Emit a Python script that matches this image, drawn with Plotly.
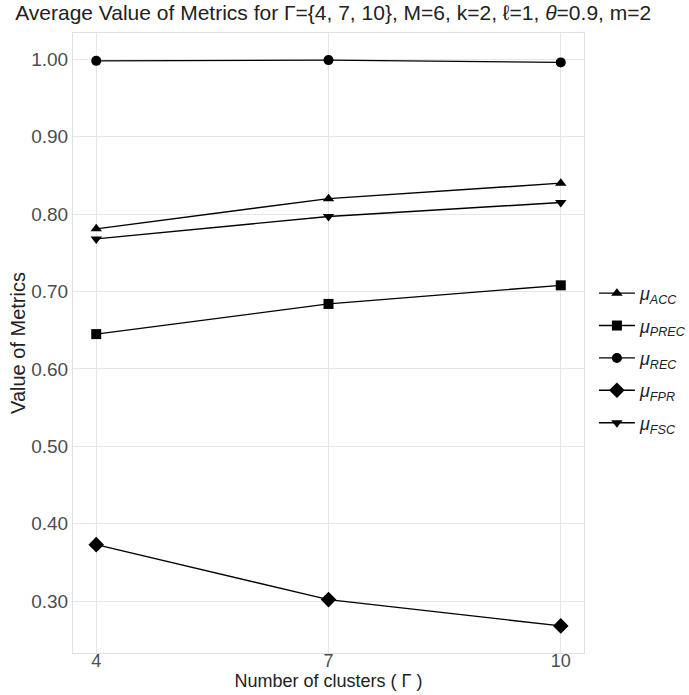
import plotly.graph_objects as go

clusters = [4, 7, 10]
acc = [0.781, 0.820, 0.840]
prec = [0.645, 0.684, 0.708]
rec = [0.998, 0.999, 0.996]
fpr = [0.373, 0.302, 0.268]
fsc = [0.768, 0.797, 0.815]

series = [
    ("<i>μ<sub>ACC</sub></i>", acc, "triangle-up"),
    ("<i>μ<sub>PREC</sub></i>", prec, "square"),
    ("<i>μ<sub>REC</sub></i>", rec, "circle"),
    ("<i>μ<sub>FPR</sub></i>", fpr, "diamond"),
    ("<i>μ<sub>FSC</sub></i>", fsc, "triangle-down"),
]

y_ticks = [0.3, 0.4, 0.5, 0.6, 0.7, 0.8, 0.9, 1.0]
y_labels = ["0.30", "0.40", "0.50", "0.60", "0.70", "0.80", "0.90", "1.00"]

fig = go.Figure()
for i, (name, vals, sym) in enumerate(series):
    fig.add_trace(go.Scatter(
        x=clusters, y=vals, name=name, mode="lines+markers",
        legendgroup=f"g{i}",
        line=dict(color="black", width=1.4),
        marker=dict(symbol=sym, size=10 if sym != "diamond" else 12, color="black"),
    ))

font = "Liberation Sans, Arial, sans-serif"
fig.update_layout(
    width=689, height=695,
    margin=dict(l=73, r=105, t=33, b=42, autoexpand=False),
    paper_bgcolor="white", plot_bgcolor="white",
    font=dict(family=font, color="#333333", size=18),
    title=dict(
        text="Average Value of Metrics for Γ={4, 7, 10}, M=6, k=2, ℓ=1, <i>θ</i>=0.9, m=2",
        x=0.022, xanchor="left", y=0.992, yanchor="top",
        font=dict(size=21, color="#222222"),
    ),
    showlegend=True,
    legend=dict(
        xref="container", x=0.862, xanchor="left",
        yref="container", y=0.485, yanchor="middle",
        font=dict(size=18, color="#222222"),
        tracegroupgap=6, itemwidth=36, bgcolor="rgba(0,0,0,0)",
    ),
    xaxis=dict(
        range=[3.7, 10.3], tickvals=clusters, ticktext=[str(c) for c in clusters],
        showgrid=True, gridcolor="#e6e6e6", gridwidth=1,
        showline=True, mirror=True, linecolor="#e0e0e0", linewidth=1,
        zeroline=False, ticks="", tickfont=dict(size=18, color="#4d4d4d"),
        ticklabelstandoff=-9,
        title=dict(text="Number of clusters ( Γ )", font=dict(size=18, color="#222222"), standoff=0),
    ),
    yaxis=dict(
        range=[0.233, 1.034], tickvals=y_ticks, ticktext=y_labels,
        showgrid=True, gridcolor="#e6e6e6", gridwidth=1,
        showline=True, mirror=True, linecolor="#e0e0e0", linewidth=1,
        zeroline=False, ticks="", tickfont=dict(size=19, color="#4d4d4d"),
        title=dict(text="Value of Metrics", font=dict(size=20, color="#222222"), standoff=0),
    ),
)

fig.write_html("out.html")
